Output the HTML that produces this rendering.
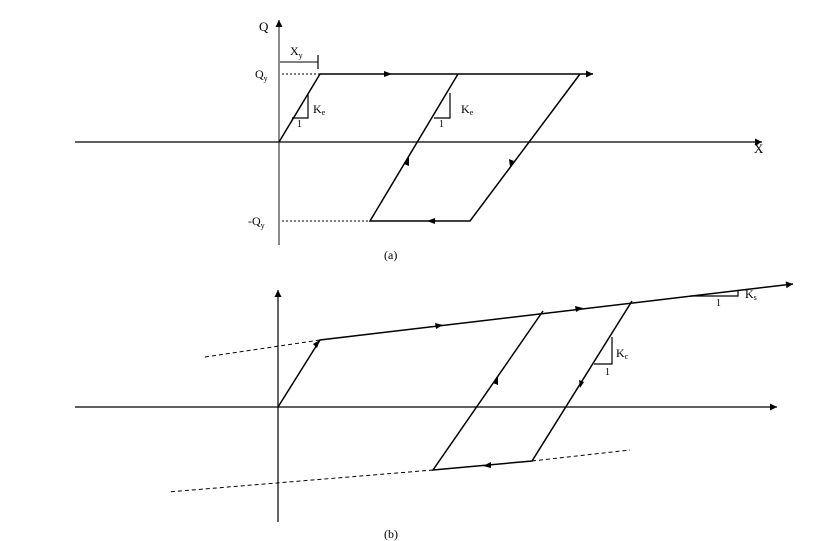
<!DOCTYPE html>
<html><head><style>
body{margin:0;background:#fff;}
svg{display:block;}
text{font-family:"Liberation Serif",serif;fill:#000;}
</style></head><body>
<svg width="832" height="541" viewBox="0 0 832 541" xmlns="http://www.w3.org/2000/svg">
<defs>
<marker id="a" viewBox="0 0 10 10" refX="10" refY="5" markerWidth="9" markerHeight="7" orient="auto" markerUnits="userSpaceOnUse"><path d="M0,0L10,5L0,10z" fill="#000"/></marker>
</defs>
<g stroke="#000" fill="none" stroke-width="1.5">
<!-- (a) -->
<line x1="279" y1="245" x2="279" y2="20" stroke="#666" marker-end="url(#a)"/>
<line x1="75" y1="142" x2="762" y2="142" stroke-width="1.2" marker-end="url(#a)"/>
<polyline points="279,142 320,74 593,74" marker-end="url(#a)"/>
<polyline points="458,74 370,221 470,221 580,74"/>
<line x1="282" y1="74" x2="320" y2="74" stroke-dasharray="2,2" stroke-width="1"/>
<line x1="282" y1="221" x2="370" y2="221" stroke-dasharray="2,2" stroke-width="1"/>
<line x1="280" y1="62" x2="318" y2="62" stroke-width="1"/>
<line x1="318" y1="55" x2="318" y2="69" stroke-width="1.2"/>
<polyline points="292,118 308,118 308,93" stroke-width="1.2"/>
<polyline points="434,118 450,118 450,93" stroke-width="1.2"/>
<!-- (b) -->
<line x1="278" y1="522" x2="278" y2="290" stroke-width="1.2" marker-end="url(#a)"/>
<line x1="75" y1="407" x2="777" y2="407" stroke-width="1.2" marker-end="url(#a)"/>
<line x1="205" y1="357" x2="320" y2="340" stroke-dasharray="4,3" stroke-width="1"/>
<polyline points="278,407 320,340 793,284" marker-end="url(#a)"/>
<polyline points="543,311 433,470 532,461 632,301"/>
<line x1="532" y1="461" x2="630" y2="450" stroke-dasharray="4,3" stroke-width="1"/>
<line x1="433" y1="470" x2="168" y2="492" stroke-dasharray="4,3" stroke-width="1"/>
<polyline points="690,296 738,296 738,290" stroke-width="1.2"/>
<polyline points="594,364 612,364 612,337" stroke-width="1.2"/>
</g>
<g fill="#000">
<path d="M392,74 l-8,-3 v6z"/>
<path d="M427,221 l8,-3 v6z"/>
<path d="M409,157 l-5,7 l5,2z"/>
<path d="M510,167 l-1,-8 l5,2z"/>
<path d="M320,340 l-7,4 l4,4z"/>
<path d="M443,325 l-8,-2 l1,6z"/>
<path d="M583,308 l-8,-2 l1,6z"/>
<path d="M498,376 l-5,7 l5,2z"/>
<path d="M580,388 l-1,-8 l5,2z"/>
<path d="M483,466 l8,-4 v6z"/>
</g>
<text x="259" y="31" font-size="13">Q</text>
<text x="290" y="55" font-size="12">X<tspan font-size="8" dy="3">y</tspan></text>
<text x="255" y="78" font-size="12">Q<tspan font-size="8" dy="3">y</tspan></text>
<text x="248" y="225" font-size="12">-Q<tspan font-size="8" dy="3">y</tspan></text>
<text x="313" y="113" font-size="12">K<tspan font-size="8" dy="2">e</tspan></text>
<text x="461" y="113" font-size="12">K<tspan font-size="8" dy="2">e</tspan></text>
<text x="297" y="127" font-size="10">1</text>
<text x="439" y="127" font-size="10">1</text>
<text x="754" y="153" font-size="13">X</text>
<text x="384" y="259" font-size="12">(a)</text>
<text x="745" y="298" font-size="12">K<tspan font-size="8" dy="2">s</tspan></text>
<text x="716" y="306" font-size="10">1</text>
<text x="616" y="357" font-size="12">K<tspan font-size="8" dy="2">c</tspan></text>
<text x="605" y="375" font-size="10">1</text>
<text x="384" y="538" font-size="12">(b)</text>
</svg>
</body></html>
